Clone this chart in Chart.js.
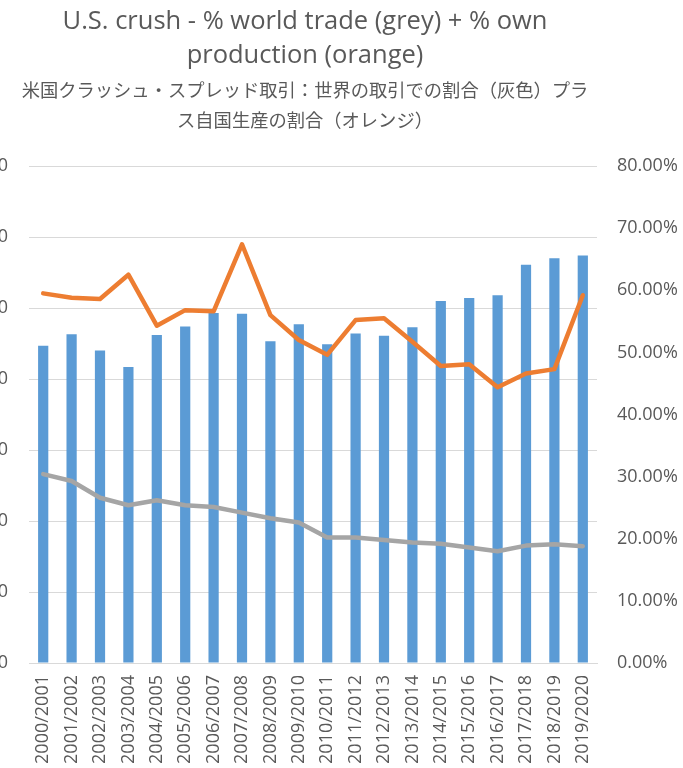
<!DOCTYPE html>
<html>
<head>
<meta charset="utf-8">
<script src="https://cdn.jsdelivr.net/npm/chart.js@4.4.1/dist/chart.umd.min.js"></script>
<style>
  body { margin: 0; overflow: hidden; background: #fff; }
  #wrap { position: absolute; left: -73px; top: 0; width: 756px; height: 768px; }
</style>
</head>
<body>
<div id="wrap"><canvas id="myChart"></canvas></div>
<script>
const ctx = document.getElementById('myChart');
const colorBar = '#5B9BD5';
const colorOrange = '#ED7D31';
const colorGrey = '#A5A5A5';
const colorText = '#595959';
const colorGrid = '#D9D9D9';

// data
const seasons = ['2000/2001', '2001/2002', '2002/2003', '2003/2004', '2004/2005',
  '2005/2006', '2006/2007', '2007/2008', '2008/2009', '2009/2010',
  '2010/2011', '2011/2012', '2012/2013', '2013/2014', '2014/2015',
  '2015/2016', '2016/2017', '2017/2018', '2018/2019', '2019/2020'];
const crush = [44.7, 46.3, 44.0, 41.7, 46.2, 47.4, 49.3, 49.2, 45.3, 47.7,
  44.9, 46.4, 46.1, 47.3, 51.0, 51.4, 51.8, 56.1, 57.0, 57.4];
const shareOwnProduction = [0.595, 0.588, 0.586, 0.625, 0.543, 0.568, 0.566, 0.674, 0.560, 0.520,
  0.496, 0.552, 0.555, 0.517, 0.478, 0.481, 0.444, 0.466, 0.473, 0.592];
const shareWorldTrade = [0.304, 0.293, 0.266, 0.254, 0.262, 0.254, 0.251, 0.242, 0.233, 0.226,
  0.202, 0.202, 0.198, 0.194, 0.192, 0.186, 0.180, 0.189, 0.191, 0.188];
const titleLines = ['U.S. crush - % world trade (grey) + % own', 'production (orange)'];
const subtitleLines = ['米国クラッシュ・スプレッド取引：世界の取引での割合（灰色）プラ', 'ス自国生産の割合（オレンジ）'];

Chart.defaults.font.family = '"Open Sans", "Noto Sans CJK JP", sans-serif';
Chart.defaults.color = colorText;

const lineStyle = {
  type: 'line',
  yAxisID: 'y1',
  borderWidth: 4.5,
  pointRadius: 0,
  tension: 0,
  borderJoinStyle: 'round',
  borderCapStyle: 'round',
};

new Chart(ctx, {
  type: 'bar',
  data: {
    labels: seasons,
    datasets: [
      { ...lineStyle, data: shareOwnProduction, borderColor: colorOrange, order: 1 },
      { ...lineStyle, data: shareWorldTrade, borderColor: colorGrey, order: 2 },
      {
        type: 'bar',
        data: crush,
        yAxisID: 'y',
        backgroundColor: colorBar,
        categoryPercentage: 1,
        barPercentage: 0.36,
        order: 3,
      },
    ],
  },
  options: {
    responsive: true,
    maintainAspectRatio: false,
    animation: false,
    layout: { padding: 0 },
    scales: {
      x: {
        grid: { display: false },
        border: { display: true, color: colorGrid },
        ticks: { minRotation: 90, maxRotation: 90, font: { size: 18 }, padding: 4 },
        afterFit: (scale) => { scale.height = 105; },
      },
      y: {
        position: 'left',
        min: 0,
        max: 70,
        ticks: { stepSize: 10, font: { size: 18 }, padding: 21 },
        grid: { color: colorGrid, drawTicks: false },
        border: { display: false },
        afterFit: (scale) => { scale.width = 102; },
      },
      y1: {
        position: 'right',
        min: 0,
        max: 0.8,
        ticks: {
          stepSize: 0.1,
          font: { size: 18 },
          padding: 20,
          callback: (v) => (v * 100).toFixed(2) + '%',
        },
        grid: { display: false, drawTicks: false },
        border: { display: false },
        afterFit: (scale) => { scale.width = 86; },
      },
    },
    plugins: {
      legend: { display: false },
      tooltip: { enabled: false },
      title: {
        display: true,
        text: titleLines,
        color: colorText,
        font: { size: 25.5, weight: 'normal', lineHeight: 34 / 25.5 },
        padding: { top: 5, bottom: 2 },
      },
      subtitle: {
        display: true,
        text: subtitleLines,
        color: colorText,
        font: { size: 18.3, family: '"Noto Sans CJK JP", sans-serif', lineHeight: 30 / 18.3 },
        padding: { top: 0, bottom: 31 },
      },
    },
  },
});
</script>
</body>
</html>
